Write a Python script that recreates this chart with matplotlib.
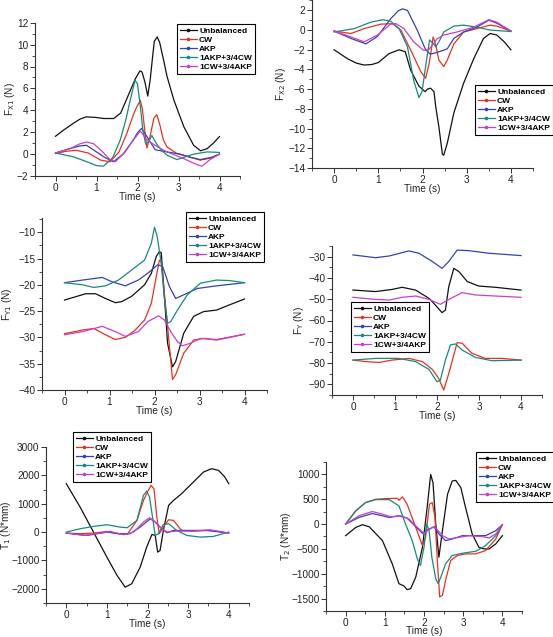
import matplotlib
matplotlib.use("Agg")
import matplotlib.pyplot as plt
from matplotlib.ticker import MultipleLocator
from matplotlib.lines import Line2D
from matplotlib.transforms import blended_transform_factory

plt.rcParams['font.family'] = ['Liberation Sans', 'DejaVu Sans']

series_names = ["Unbalanced", "CW", "AKP", "1AKP+3/4CW", "1CW+3/4AKP"]
series_colors = ["#111111", "#e8321e", "#3443b3", "#178a7c", "#c83fcf"]

# ---------------- Panel 1: F_X1 ----------------
fx1_unb_t = [0, 0.2, 0.45, 0.6, 0.75, 0.98, 1.18, 1.42, 1.59, 1.79, 1.95, 2.06, 2.11, 2.18, 2.25, 2.31, 2.36, 2.41, 2.48, 2.54, 2.63, 2.72, 2.89, 3.13, 3.37, 3.54, 3.7, 3.85, 4.0]
fx1_unb_v = [1.63, 2.2, 2.85, 3.2, 3.4, 3.35, 3.25, 3.25, 3.75, 5.5, 6.9, 7.6, 7.5, 6.6, 5.3, 6.8, 8.6, 10.3, 10.7, 10.2, 8.7, 7.1, 4.9, 2.5, 0.8, 0.3, 0.5, 1.0, 1.6]
fx1_cw_t = [0, 0.25, 0.5, 0.8, 1.1, 1.33, 1.55, 1.74, 1.9, 1.98, 2.07, 2.12, 2.17, 2.23, 2.3, 2.4, 2.47, 2.55, 2.63, 2.72, 2.96, 3.25, 3.53, 3.8, 4.0]
fx1_cw_v = [0.05, 0.25, 0.35, 0.1, -0.55, -0.7, 0.2, 1.9, 3.6, 4.3, 4.9, 4.1, 2.4, 0.55, 1.5, 3.3, 3.6, 2.6, 1.3, 0.65, 0.05, -0.25, -0.55, -0.35, 0.0]
fx1_akp_t = [0, 0.3, 0.6, 0.76, 1.0, 1.2, 1.41, 1.65, 1.9, 2.0, 2.1, 2.23, 2.43, 2.72, 3.04, 3.3, 3.53, 3.8, 4.0]
fx1_akp_v = [0.1, 0.45, 0.75, 0.8, 0.2, -0.3, -0.7, 0.0, 1.3, 1.95, 2.35, 1.6, 0.4, 0.2, 0.0, -0.3, -0.5, -0.3, 0.0]
fx1_mix1_t = [0, 0.44, 0.8, 1.0, 1.17, 1.4, 1.58, 1.72, 1.82, 1.94, 2.0, 2.07, 2.13, 2.2, 2.28, 2.35, 2.47, 2.6, 2.72, 2.96, 3.37, 3.7, 4.0]
fx1_mix1_v = [0.1, -0.25, -0.75, -1.05, -1.1, -0.3, 1.3, 3.2, 4.9, 6.75, 6.4, 4.3, 2.2, 0.9, 1.2, 1.7, 0.9, 0.3, -0.1, -0.5, 0.0, 0.2, 0.15]
fx1_mix2_t = [0, 0.36, 0.6, 0.76, 0.93, 1.15, 1.33, 1.46, 1.7, 1.9, 2.07, 2.23, 2.47, 2.72, 3.12, 3.35, 3.49, 3.57, 3.77, 4.0]
fx1_mix2_v = [0.1, 0.5, 0.95, 1.1, 0.95, 0.2, -0.5, -0.7, 0.2, 1.3, 2.1, 1.3, 0.7, 0.2, -0.4, -0.8, -1.0, -1.1, -0.5, 0.0]

# ---------------- Panel 2: F_X2 ----------------
fx2_unb_t = [0, 0.3, 0.5, 0.68, 0.85, 1.0, 1.24, 1.47, 1.61, 1.73, 1.92, 2.06, 2.11, 2.18, 2.26, 2.3, 2.37, 2.45, 2.48, 2.56, 2.71, 2.93, 3.16, 3.38, 3.53, 3.68, 3.85, 4.0]
fx2_unb_v = [-2.0, -2.9, -3.35, -3.55, -3.5, -3.3, -2.4, -2.0, -2.2, -4.05, -5.7, -6.25, -6.0, -5.9, -6.25, -7.8, -9.8, -12.6, -12.7, -11.5, -8.4, -5.4, -2.9, -0.85, -0.35, -0.5, -1.2, -2.0]
fx2_cw_t = [0, 0.38, 0.68, 1.06, 1.32, 1.51, 1.73, 1.96, 2.07, 2.15, 2.21, 2.24, 2.3, 2.37, 2.48, 2.56, 2.71, 2.93, 3.23, 3.53, 3.68, 4.0]
fx2_cw_v = [-0.1, -0.35, 0.15, 0.6, 0.65, 0.0, -2.0, -4.2, -4.9, -3.4, -1.7, -0.7, -1.5, -3.05, -3.7, -3.05, -1.4, -0.2, 0.15, 0.5, 0.4, -0.1]
fx2_akp_t = [0, 0.38, 0.72, 0.98, 1.28, 1.45, 1.55, 1.66, 1.88, 2.07, 2.18, 2.3, 2.37, 2.48, 2.56, 2.71, 2.93, 3.23, 3.5, 3.68, 4.0]
fx2_akp_v = [-0.1, -0.85, -1.4, -0.65, 1.15, 1.95, 2.15, 2.0, 0.0, -2.0, -2.45, -2.3, -2.2, -2.05, -1.9, -0.85, -0.2, 0.3, 1.0, 0.7, -0.1]
fx2_mix1_t = [0, 0.46, 0.83, 1.1, 1.28, 1.47, 1.66, 1.8, 1.92, 1.99, 2.07, 2.16, 2.24, 2.3, 2.37, 2.48, 2.71, 2.93, 3.23, 3.53, 4.0]
fx2_mix1_v = [-0.2, 0.15, 0.8, 1.05, 0.9, 0.15, -1.7, -5.1, -6.85, -6.25, -3.7, -1.0, -1.35, -1.7, -1.2, -0.2, 0.4, 0.5, 0.3, 0.0, -0.15]
fx2_mix2_t = [0, 0.38, 0.68, 0.98, 1.28, 1.4, 1.58, 1.8, 2.02, 2.14, 2.33, 2.48, 2.78, 3.16, 3.5, 3.68, 4.0]
fx2_mix2_v = [-0.1, -0.7, -1.2, -0.5, 0.6, 0.65, 0.15, -1.2, -2.05, -2.0, -0.9, -0.5, -0.2, 0.3, 1.05, 0.8, -0.1]

# ---------------- Panel 3: F_Y1 ----------------
fy1_unb_t = [0, 0.47, 0.69, 0.91, 1.13, 1.27, 1.49, 1.78, 1.93, 2.04, 2.11, 2.15, 2.22, 2.29, 2.4, 2.47, 2.65, 2.87, 3.09, 3.38, 3.67, 4.0]
fy1_unb_v = [-22.9, -21.7, -21.7, -22.6, -23.4, -23.2, -22.2, -20.0, -17.8, -14.6, -13.7, -13.9, -22.2, -31.1, -35.6, -34.6, -29.2, -26.0, -25.1, -24.8, -23.8, -22.7]
fy1_cw_t = [0, 0.4, 0.65, 0.91, 1.13, 1.35, 1.56, 1.78, 1.93, 2.04, 2.11, 2.15, 2.22, 2.29, 2.4, 2.47, 2.65, 2.87, 3.09, 3.38, 3.67, 4.0]
fy1_cw_v = [-29.3, -28.6, -28.3, -29.5, -30.4, -30.0, -28.7, -26.7, -23.5, -18.4, -15.3, -15.6, -21.6, -27.9, -38.0, -37.1, -33.0, -30.5, -30.2, -30.5, -30.0, -29.4]
fy1_akp_t = [0, 0.4, 0.84, 1.05, 1.35, 1.64, 1.85, 2.07, 2.18, 2.33, 2.47, 2.65, 2.95, 3.38, 4.0]
fy1_akp_v = [-19.6, -19.1, -18.6, -19.4, -20.2, -19.1, -17.8, -16.2, -16.5, -20.3, -22.6, -21.9, -20.7, -20.2, -19.6]
fy1_mix1_t = [0, 0.4, 0.65, 0.91, 1.2, 1.49, 1.78, 1.93, 2.0, 2.06, 2.15, 2.22, 2.29, 2.36, 2.51, 2.73, 3.02, 3.38, 3.67, 4.0]
fy1_mix1_v = [-19.6, -20.0, -20.5, -20.2, -19.1, -17.2, -15.3, -12.1, -9.05, -10.8, -15.9, -22.6, -27.3, -27.0, -24.8, -21.9, -19.7, -19.1, -19.2, -19.6]
fy1_mix2_t = [0, 0.4, 0.84, 1.13, 1.35, 1.64, 1.85, 2.09, 2.22, 2.36, 2.51, 2.62, 2.8, 3.02, 3.38, 4.0]
fy1_mix2_v = [-29.5, -28.9, -27.9, -28.9, -29.8, -28.9, -27.0, -25.9, -26.7, -28.9, -30.8, -31.6, -31.1, -30.2, -30.4, -29.4]

# ---------------- Panel 4: F_Y ----------------
fy_unb_t = [0, 0.54, 0.93, 1.17, 1.49, 1.81, 1.96, 2.12, 2.2, 2.28, 2.4, 2.52, 2.72, 2.99, 3.39, 4.0]
fy_unb_v = [-45.7, -46.4, -45.4, -44.4, -45.7, -49.6, -52.7, -56.3, -55.1, -44.1, -35.5, -37.0, -41.7, -43.8, -44.4, -45.7]
fy_cw_t = [0, 0.3, 0.62, 0.93, 1.33, 1.65, 1.89, 2.04, 2.16, 2.28, 2.48, 2.6, 2.83, 3.15, 3.55, 4.0]
fy_cw_v = [-78.6, -79.3, -79.7, -78.6, -77.8, -79.3, -83.0, -87.2, -92.7, -84.9, -70.4, -70.7, -75.4, -77.8, -77.8, -78.6]
fy_akp_t = [0, 0.54, 0.86, 1.33, 1.57, 1.89, 2.12, 2.28, 2.48, 2.76, 3.23, 4.0]
fy_akp_v = [-29.2, -30.5, -29.7, -27.3, -28.4, -32.3, -35.5, -32.3, -26.9, -27.2, -28.4, -29.5]
fy_mix1_t = [0, 0.54, 1.09, 1.49, 1.81, 2.0, 2.08, 2.2, 2.32, 2.44, 2.6, 2.91, 3.31, 4.0]
fy_mix1_v = [-78.6, -77.8, -77.8, -79.3, -83.0, -88.8, -88.0, -78.6, -71.5, -71.0, -73.9, -77.3, -78.9, -78.6]
fy_mix2_t = [0, 0.54, 0.86, 1.17, 1.49, 1.81, 2.08, 2.28, 2.6, 2.91, 3.39, 4.0]
fy_mix2_v = [-49.1, -50.1, -50.4, -49.1, -48.5, -50.1, -52.4, -50.1, -46.9, -48.0, -48.5, -49.1]

# ---------------- Panel 5: T_1 ----------------
t1_unb_t = [0, 0.34, 0.67, 1.0, 1.25, 1.45, 1.61, 1.82, 1.98, 2.11, 2.19, 2.25, 2.31, 2.39, 2.52, 2.64, 2.84, 3.13, 3.38, 3.58, 3.75, 3.9, 4.0]
t1_unb_v = [1706, 882, 0, -882, -1529, -1941, -1824, -1235, -530, -82, -118, -706, -647, 59, 941, 1118, 1353, 1765, 2118, 2235, 2176, 1950, 1710]
t1_cw_t = [0, 0.34, 0.67, 1.0, 1.25, 1.5, 1.74, 1.9, 2.02, 2.09, 2.16, 2.23, 2.29, 2.39, 2.52, 2.64, 2.84, 3.13, 3.54, 4.0]
t1_cw_v = [-35, -59, -35, 24, -59, -82, 412, 1118, 1471, 1647, 1529, 529, -59, 176, 435, 412, 59, 35, 59, -35]
t1_akp_t = [0, 0.51, 1.0, 1.33, 1.57, 1.82, 2.07, 2.19, 2.35, 2.48, 2.64, 2.97, 3.46, 4.0]
t1_akp_v = [-35, -118, 0, -59, -59, 176, 470, 353, 118, -24, 59, 59, 59, -35]
t1_mix1_t = [0, 0.34, 0.67, 1.0, 1.33, 1.5, 1.74, 1.9, 1.98, 2.05, 2.13, 2.19, 2.27, 2.39, 2.52, 2.72, 2.97, 3.3, 3.62, 4.0]
t1_mix1_v = [0, 118, 200, 259, 176, 153, 412, 1294, 1447, 1235, 470, -118, -59, 270, 294, 59, -118, -176, -153, 0]
t1_mix2_t = [0, 0.43, 0.84, 1.08, 1.41, 1.66, 1.9, 2.05, 2.15, 2.31, 2.48, 2.72, 3.13, 3.54, 4.0]
t1_mix2_v = [-35, -118, -35, 24, -94, 0, 353, 506, 412, 176, 0, 35, 35, 82, -35]

# ---------------- Panel 6: T_2 ----------------
t2_unb_t = [0, 0.26, 0.43, 0.6, 0.94, 1.19, 1.36, 1.49, 1.57, 1.66, 1.79, 1.96, 2.09, 2.17, 2.23, 2.3, 2.38, 2.47, 2.6, 2.72, 2.81, 2.94, 3.06, 3.23, 3.4, 3.53, 3.66, 3.83, 4.0]
t2_unb_v = [-233, -67, -13, -53, -333, -800, -1200, -1247, -1320, -1300, -1067, -467, 400, 1000, 833, 0, -667, -133, 600, 867, 880, 733, 333, -200, -467, -500, -500, -400, -233]
t2_cw_t = [0, 0.26, 0.51, 0.77, 1.02, 1.32, 1.36, 1.45, 1.57, 1.79, 1.96, 2.04, 2.14, 2.21, 2.28, 2.34, 2.4, 2.47, 2.55, 2.68, 2.85, 3.06, 3.32, 3.57, 3.83, 4.0]
t2_cw_v = [0, 267, 433, 500, 513, 520, 480, 547, 400, -67, -433, -267, 400, 433, 133, -733, -1467, -1433, -1133, -733, -633, -600, -600, -533, -300, -13]
t2_akp_t = [0, 0.34, 0.68, 0.94, 1.11, 1.36, 1.57, 1.79, 1.96, 2.13, 2.26, 2.38, 2.55, 2.72, 2.98, 3.32, 3.57, 3.83, 4.0]
t2_akp_v = [0, 133, 213, 167, 133, 167, 120, -53, -187, -100, -53, -200, -333, -300, -233, -233, -233, -133, -13]
t2_mix1_t = [0, 0.26, 0.51, 0.77, 1.11, 1.36, 1.53, 1.7, 1.83, 1.91, 2.0, 2.07, 2.13, 2.2, 2.3, 2.36, 2.43, 2.55, 2.72, 2.98, 3.32, 3.57, 3.83, 4.0]
t2_mix1_v = [0, 267, 433, 493, 493, 367, 0, -333, -700, -833, -467, 0, -133, -667, -1100, -1200, -1067, -800, -633, -587, -547, -433, -233, -13]
t2_mix2_t = [0, 0.34, 0.68, 0.94, 1.15, 1.4, 1.62, 1.83, 2.0, 2.21, 2.3, 2.47, 2.64, 2.89, 3.15, 3.49, 3.66, 3.83, 4.0]
t2_mix2_v = [0, 167, 253, 200, 147, 167, 100, -67, -187, -67, -80, -233, -300, -267, -233, -253, -280, -200, -13]

x_ticks = [0, 1, 2, 3, 4]

W, H = 553, 637
fig = plt.figure(figsize=(W / 100, H / 100), dpi=100)


def make_axes(left, right, top, bottom):
    return fig.add_axes([left / W, 1 - bottom / H, (right - left) / W, (bottom - top) / H])


panels = [
    # (box px, ylim, major, minor, ylabel, ylabel x px, xlabel offset px, data, legend pos px)
    ((35, 240, 22.7, 176), (-2, 12), 2, 1, r"F$_{\mathrm{X1}}$ (N)", 10, 16,
     [(fx1_unb_t, fx1_unb_v), (fx1_cw_t, fx1_cw_v), (fx1_akp_t, fx1_akp_v), (fx1_mix1_t, fx1_mix1_v), (fx1_mix2_t, fx1_mix2_v)],
     (177, 24)),
    ((312, 533, 0.5, 168), (-14, 3), 2, 1, r"F$_{\mathrm{X2}}$ (N)", 281, 16,
     [(fx2_unb_t, fx2_unb_v), (fx2_cw_t, fx2_cw_v), (fx2_akp_t, fx2_akp_v), (fx2_mix1_t, fx2_mix1_v), (fx2_mix2_t, fx2_mix2_v)],
     (475, 85)),
    ((42, 267, 218, 390), (-40, -7.3), 5, 2.5, r"F$_{\mathrm{Y1}}$ (N)", 7, 16,
     [(fy1_unb_t, fy1_unb_v), (fy1_cw_t, fy1_cw_v), (fy1_akp_t, fy1_akp_v), (fy1_mix1_t, fy1_mix1_v), (fy1_mix2_t, fy1_mix2_v)],
     (186, 212)),
    ((332, 542, 246, 395), (-95, -25), 10, 5, r"F$_{\mathrm{Y}}$ (N)", 299, 16,
     [(fy_unb_t, fy_unb_v), (fy_cw_t, fy_cw_v), (fy_akp_t, fy_akp_v), (fy_mix1_t, fy_mix1_v), (fy_mix2_t, fy_mix2_v)],
     (351, 302)),
    ((46, 249, 447, 603), (-2500, 3000), 1000, 500, r"T$_{\mathrm{1}}$ (N*mm)", 6, 16,
     [(t1_unb_t, t1_unb_v), (t1_cw_t, t1_cw_v), (t1_akp_t, t1_akp_v), (t1_mix1_t, t1_mix1_v), (t1_mix2_t, t1_mix2_v)],
     (73, 432)),
    ((326, 522, 462, 611), (-1750, 1250), 500, 250, r"T$_{\mathrm{2}}$ (N*mm)", 286, 15.5,
     [(t2_unb_t, t2_unb_v), (t2_cw_t, t2_cw_v), (t2_akp_t, t2_akp_v), (t2_mix1_t, t2_mix1_v), (t2_mix2_t, t2_mix2_v)],
     (476, 452)),
]

FS = 7.2
for box, ylim, major, minor, ylabel, ylab_x, xlab_off, data, legpos in panels:
    ax = make_axes(*box)
    for (t, v), col in zip(data, series_colors):
        ax.plot(t, v, color=col, lw=0.9)
    ax.set_xlim(-0.5, 4.5)
    ax.set_ylim(*ylim)
    ax.set_xticks(x_ticks)
    ax.xaxis.set_minor_locator(MultipleLocator(0.5))
    ax.yaxis.set_major_locator(MultipleLocator(major))
    ax.yaxis.set_minor_locator(MultipleLocator(minor))
    for s in ["top", "right"]:
        ax.spines[s].set_visible(False)
    for s in ["left", "bottom"]:
        ax.spines[s].set_color("#333333")
        ax.spines[s].set_linewidth(0.8)
    ax.tick_params(which="major", direction="out", length=3.5, width=0.7, labelsize=FS, pad=1.2, colors="#333333", labelcolor="#222222")
    ax.tick_params(which="minor", direction="out", length=2, width=0.6, colors="#333333")
    ax.set_xlabel("Time (s)", fontsize=FS, color="#222222")
    ax.set_ylabel(ylabel, fontsize=FS, color="#222222")
    ax.yaxis.set_label_coords(ylab_x / W, 0.5, transform=blended_transform_factory(fig.transFigure, ax.transAxes))
    ax.xaxis.set_label_coords(0.5, 1 - (box[3] + xlab_off) / H, transform=blended_transform_factory(ax.transAxes, fig.transFigure))
    ax.yaxis.label.set_va("center")
    ax.patch.set_alpha(0)
    handles = [Line2D([0], [0], color=c, lw=0.9, marker="o", markersize=1.6) for c in series_colors]
    leg = ax.legend(handles, series_names, loc="upper left",
                    bbox_to_anchor=(legpos[0] / W, 1 - legpos[1] / H),
                    bbox_transform=fig.transFigure, borderaxespad=0,
                    prop={"weight": "bold", "size": 6}, frameon=True, fancybox=False,
                    edgecolor="black", handlelength=2.0, handletextpad=0.3,
                    labelspacing=0.15, borderpad=0.35, framealpha=1)
    leg.get_frame().set_linewidth(0.8)

fig.savefig("out.png", dpi=100)
